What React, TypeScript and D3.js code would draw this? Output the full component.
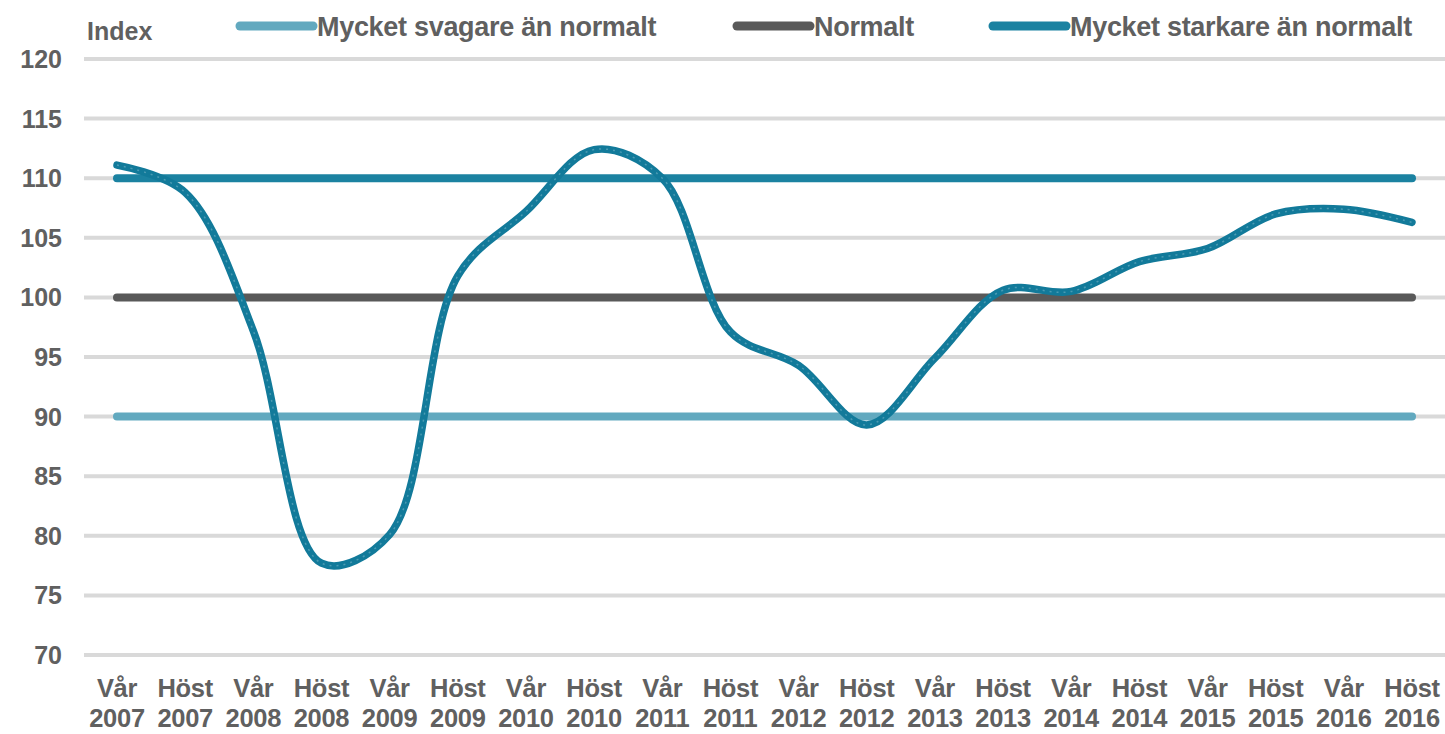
import React from "react";
import * as d3 from "d3";

const seasons = ["Vår", "Höst", "Vår", "Höst", "Vår", "Höst", "Vår", "Höst", "Vår", "Höst", "Vår", "Höst", "Vår", "Höst", "Vår", "Höst", "Vår", "Höst", "Vår", "Höst"];
const years = ["2007", "2007", "2008", "2008", "2009", "2009", "2010", "2010", "2011", "2011", "2012", "2012", "2013", "2013", "2014", "2014", "2015", "2015", "2016", "2016"];
const indexValues = [111.1, 108.8, 97.2, 77.7, 80.1, 101.8, 107.2, 112.4, 110.0, 97.1, 94.3, 89.3, 94.9, 100.6, 100.5, 103.0, 104.1, 107.0, 107.4, 106.3];
const yTicks = [70, 75, 80, 85, 90, 95, 100, 105, 110, 115, 120];
const refNames = ["Mycket svagare än normalt", "Normalt", "Mycket starkare än normalt"];
const refValues = [90, 100, 110];
const refColors = ["#62a9bf", "#595959", "#1b82a1"];

const W = 1445;
const H = 734;
const FONT = "'Liberation Sans', Arial, sans-serif";
const TEXT = "#606060";

export default function App() {
  const cats = seasons.map((s, i) => `${s} ${years[i]}`);
  const x = d3.scalePoint<string>().domain(cats).range([117, 1412]);
  const y = d3.scaleLinear().domain([70, 120]).range([655, 59]);

  const line = d3
    .line<number>()
    .x((_, i) => x(cats[i]) as number)
    .y((d) => y(d))
    .curve(d3.curveCatmullRom.alpha(0.5));
  const pathD = line(indexValues) || "";

  const legendX = [240, 737, 993];

  return (
    <svg width={W} height={H} style={{ position: "absolute", left: 0, top: 0, background: "#fff" }}>
      {/* gridlines */}
      {yTicks.map((t) => (
        <line key={t} x1={84} x2={W} y1={y(t)} y2={y(t)} stroke="#d9d9d9" strokeWidth={4} />
      ))}
      {/* y labels */}
      {yTicks.map((t) => (
        <text key={"l" + t} x={62} y={y(t)} dy="0.36em" textAnchor="end" fontFamily={FONT} fontSize={25} fontWeight="bold" fill={TEXT}>
          {t}
        </text>
      ))}
      <text x={87} y={40} fontFamily={FONT} fontSize={25} fontWeight="bold" fill={TEXT}>Index</text>

      {/* reference lines */}
      {refValues.map((v, i) => (
        <line
          key={"r" + i}
          x1={x(cats[0])}
          x2={x(cats[cats.length - 1])}
          y1={y(v)}
          y2={y(v)}
          stroke={refColors[i]}
          strokeWidth={8}
          strokeLinecap="round"
        />
      ))}

      {/* main index line */}
      <path d={pathD} fill="none" stroke="#127a9a" strokeWidth={7.5} strokeLinecap="round" strokeLinejoin="round" />
      <path d={pathD} fill="none" stroke="#6fb0c4" strokeWidth={1.5} strokeDasharray="2 5" opacity={0.6} />

      {/* x labels */}
      {cats.map((c, i) => (
        <text key={"x" + i} x={x(c)} textAnchor="middle" fontFamily={FONT} fontSize={25.5} fontWeight="bold" fill={TEXT} letterSpacing={-0.3}>
          <tspan x={x(c)} y={697}>{seasons[i]}</tspan>
          <tspan x={x(c)} y={727}>{years[i]}</tspan>
        </text>
      ))}

      {/* legend */}
      {refNames.map((n, i) => (
        <g key={"lg" + i}>
          <line x1={legendX[i]} x2={legendX[i] + 73} y1={26} y2={26} stroke={refColors[i]} strokeWidth={9} strokeLinecap="round" />
          <text x={legendX[i] + 77} y={36} fontFamily={FONT} fontSize={27} fontWeight="bold" fill={TEXT} letterSpacing={-0.3}>
            {n}
          </text>
        </g>
      ))}
    </svg>
  );
}
